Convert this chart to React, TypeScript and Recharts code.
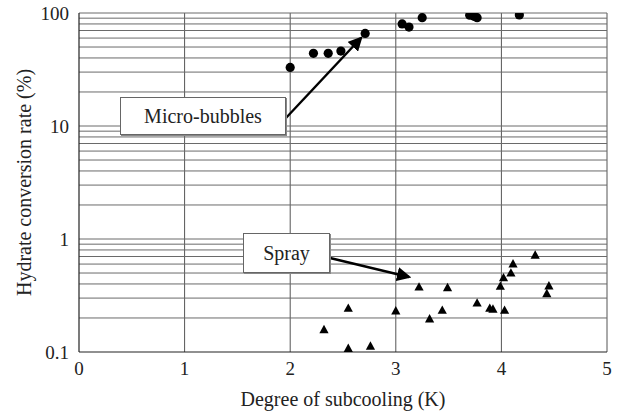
import React from 'react';
import {
  ScatterChart,
  Scatter,
  XAxis,
  YAxis,
  CartesianGrid,
  ReferenceLine,
} from 'recharts';

const FONT = '"Liberation Serif", "DejaVu Serif", serif';

// micro-bubbles (circles)
const microX = [2.0, 2.22, 2.36, 2.48, 2.71, 3.06, 3.125, 3.25, 3.7, 3.74, 3.77, 4.17];
const microY = [33, 44, 44, 46, 66, 80, 75, 91, 95.5, 93.5, 91, 96];

// spray (triangles)
const sprayX = [2.32, 2.55, 2.55, 2.76, 3.0, 3.22, 3.32, 3.44, 3.49, 3.77, 3.89, 3.92, 3.99, 4.02, 4.03, 4.09, 4.11, 4.32, 4.43, 4.45];
const sprayY = [0.16, 0.247, 0.109, 0.114, 0.234, 0.381, 0.199, 0.237, 0.376, 0.275, 0.247, 0.243, 0.387, 0.46, 0.237, 0.507, 0.61, 0.73, 0.333, 0.39];

const xTicks = [0, 1, 2, 3, 4, 5];
const yTicks = [0.1, 1, 10, 100];
const gridX = [1, 2, 3, 4, 5];
const gridY = [
  0.2, 0.3, 0.4, 0.5, 0.6, 0.7, 0.8, 0.9, 1,
  2, 3, 4, 5, 6, 7, 8, 9, 10,
  20, 30, 40, 50, 60, 70, 80, 90, 100,
];

const microData = microX.map((x, i) => ({ x, y: microY[i] }));
const sprayData = sprayX.map((x, i) => ({ x, y: sprayY[i] }));

const Dot = (props: any) => {
  const { cx, cy } = props;
  return <circle cx={cx} cy={cy} r={4.6} fill="#000" />;
};

const Tri = (props: any) => {
  const { cx, cy } = props;
  const w = 4.6;
  const h = 8.4;
  return (
    <polygon
      points={`${cx},${cy - h / 2} ${cx + w},${cy + h / 2} ${cx - w},${cy + h / 2}`}
      fill="#000"
    />
  );
};

const boxStyle: React.CSSProperties = {
  position: 'absolute',
  background: '#fff',
  border: '1px solid #666',
  boxShadow: '1px 1px 0 #888',
  fontFamily: FONT,
  fontSize: 20,
  color: '#222',
  display: 'flex',
  alignItems: 'center',
  justifyContent: 'center',
  boxSizing: 'border-box',
};

export default function App() {
  return (
    <div style={{ position: 'absolute', left: 0, top: 0, width: 620, height: 418, background: '#fff' }}>
      <ScatterChart
        width={620}
        height={418}
        margin={{ top: 13, right: 13, left: 0, bottom: 0 }}
      >
        <CartesianGrid
          stroke="#555"
          strokeWidth={1}
          horizontal={false}
          verticalValues={gridX}
        />
        {gridY.map(v => (
          <ReferenceLine key={`gy-${v}`} y={v} stroke="#6a6a6a" strokeWidth={1} ifOverflow="extendDomain" />
        ))}
        <XAxis
          type="number"
          dataKey="x"
          domain={[0, 5]}
          ticks={xTicks}
          height={66}
          axisLine={{ stroke: '#222', strokeWidth: 1.2 }}
          tickLine={false}
          tickSize={0}
          tickMargin={10}
          tick={{ fill: '#222', fontSize: 19, fontFamily: FONT }}
          label={{
            value: 'Degree of subcooling (K)',
            position: 'insideBottom',
            offset: 12,
            style: { fill: '#222', fontSize: 20, fontFamily: FONT },
          }}
        />
        <YAxis
          type="number"
          dataKey="y"
          scale="log"
          domain={[0.1, 100]}
          allowDataOverflow
          ticks={yTicks}
          width={79}
          axisLine={{ stroke: '#222', strokeWidth: 1.2 }}
          tickLine={false}
          tickSize={0}
          tickMargin={10}
          tickFormatter={(v: number) => `${v}`}
          tick={{ fill: '#222', fontSize: 19, fontFamily: FONT }}
          label={{
            value: 'Hydrate conversion rate (%)',
            angle: -90,
            position: 'insideLeft',
            offset: 24,
            style: { fill: '#222', fontSize: 20, fontFamily: FONT, textAnchor: 'middle' },
          }}
        />
        <Scatter data={microData} shape={<Dot />} isAnimationActive={false} />
        <Scatter data={sprayData} shape={<Tri />} isAnimationActive={false} />
      </ScatterChart>

      <svg
        width={620}
        height={418}
        style={{ position: 'absolute', left: 0, top: 0, pointerEvents: 'none' }}
      >
        <defs>
          <marker id="head" markerWidth="6" markerHeight="6" refX="5" refY="3" orient="auto" markerUnits="strokeWidth">
            <path d="M0,0 L6,3 L0,6 z" fill="#000" />
          </marker>
        </defs>
        <line x1={285} y1={119} x2={361} y2={38} stroke="#000" strokeWidth={2.4} markerEnd="url(#head)" />
        <line x1={330} y1={258} x2={409} y2={277} stroke="#000" strokeWidth={2.4} markerEnd="url(#head)" />
      </svg>

      <div style={{ ...boxStyle, left: 120, top: 97, width: 166, height: 38 }}>Micro-bubbles</div>
      <div style={{ ...boxStyle, left: 243, top: 233, width: 87, height: 40 }}>Spray</div>
    </div>
  );
}
